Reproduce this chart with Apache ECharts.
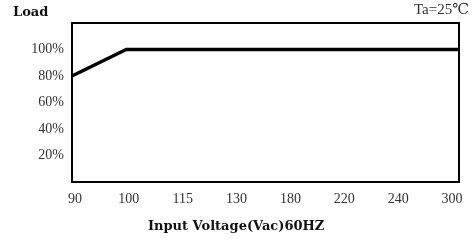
<!DOCTYPE html>
<html lang="en">
<head>
    <meta charset="UTF-8">
    <title>Load vs Input Voltage</title>
    <script type="text/javascript" src="https://cdn.jsdelivr.net/npm/echarts@6/dist/echarts.min.js"></script>
    <style>
        html, body { margin: 0; padding: 0; background: #fff; }
    </style>
</head>
<body>
<div id="main" style="width: 473px;height:242px;"></div>

<script type="text/javascript">
    // x axis is not linear: the voltages sit at evenly spaced slots
    var voltLabels = ['90', '100', '115', '130', '180', '220', '240', '300'];
    var yLabels = [20, 40, 60, 80, 100];
    // load curve, x in slot units (0 = 90V, 7 = 300V)
    var curveX = [-0.056, 0.95, 7.13];
    var curveY = [80, 100, 100];

    var xMin = -0.056, xMax = 7.13;
    var font = '"Liberation Serif", "DejaVu Serif", serif';
    var wideFont = '"DejaVu Serif", serif';

    var myChart = echarts.init(document.getElementById('main'));

    var option = {
        animation: false,
        title: [
            {
                text: 'Load', left: 13, top: 6, padding: 0,
                textStyle: {fontFamily: wideFont, fontSize: 13, fontWeight: 'bold', color: '#111', lineHeight: 14}
            },
            {
                text: 'Ta=25℃', right: 4, top: 3, padding: 0,
                textStyle: {fontFamily: font, fontSize: 15, fontWeight: 'normal', color: '#333', lineHeight: 15}
            },
            {
                text: 'Input Voltage(Vac)60HZ', left: 148, top: 220, padding: 0,
                textStyle: {fontFamily: wideFont, fontSize: 13, fontWeight: 'bold', color: '#111', lineHeight: 14}
            }
        ],
        grid: {
            left: 72, top: 23, width: 387, height: 159,
            show: true, borderColor: '#000', borderWidth: 2, backgroundColor: 'transparent'
        },
        xAxis: {
            type: 'value',
            min: xMin,
            max: xMax,
            axisLine: {show: false},
            axisTick: {show: false},
            splitLine: {show: false},
            axisLabel: {
                customValues: voltLabels.map(function (v, i) { return i; }),
                formatter: function (v) { return voltLabels[Math.round(v)]; },
                margin: 10,
                fontFamily: font, fontSize: 14, color: '#333'
            }
        },
        yAxis: {
            type: 'value',
            min: 0,
            max: 120,
            axisLine: {show: false},
            axisTick: {show: false},
            splitLine: {show: false},
            axisLabel: {
                customValues: yLabels,
                formatter: '{value}%',
                margin: 8,
                fontFamily: font, fontSize: 14, color: '#333'
            }
        },
        series: [{
            type: 'line',
            data: curveX.map(function (x, i) { return [x, curveY[i]]; }),
            symbol: 'none',
            lineStyle: {color: '#000', width: 3.5}
        }]
    };

    myChart.setOption(option);
</script>
</body>
</html>
